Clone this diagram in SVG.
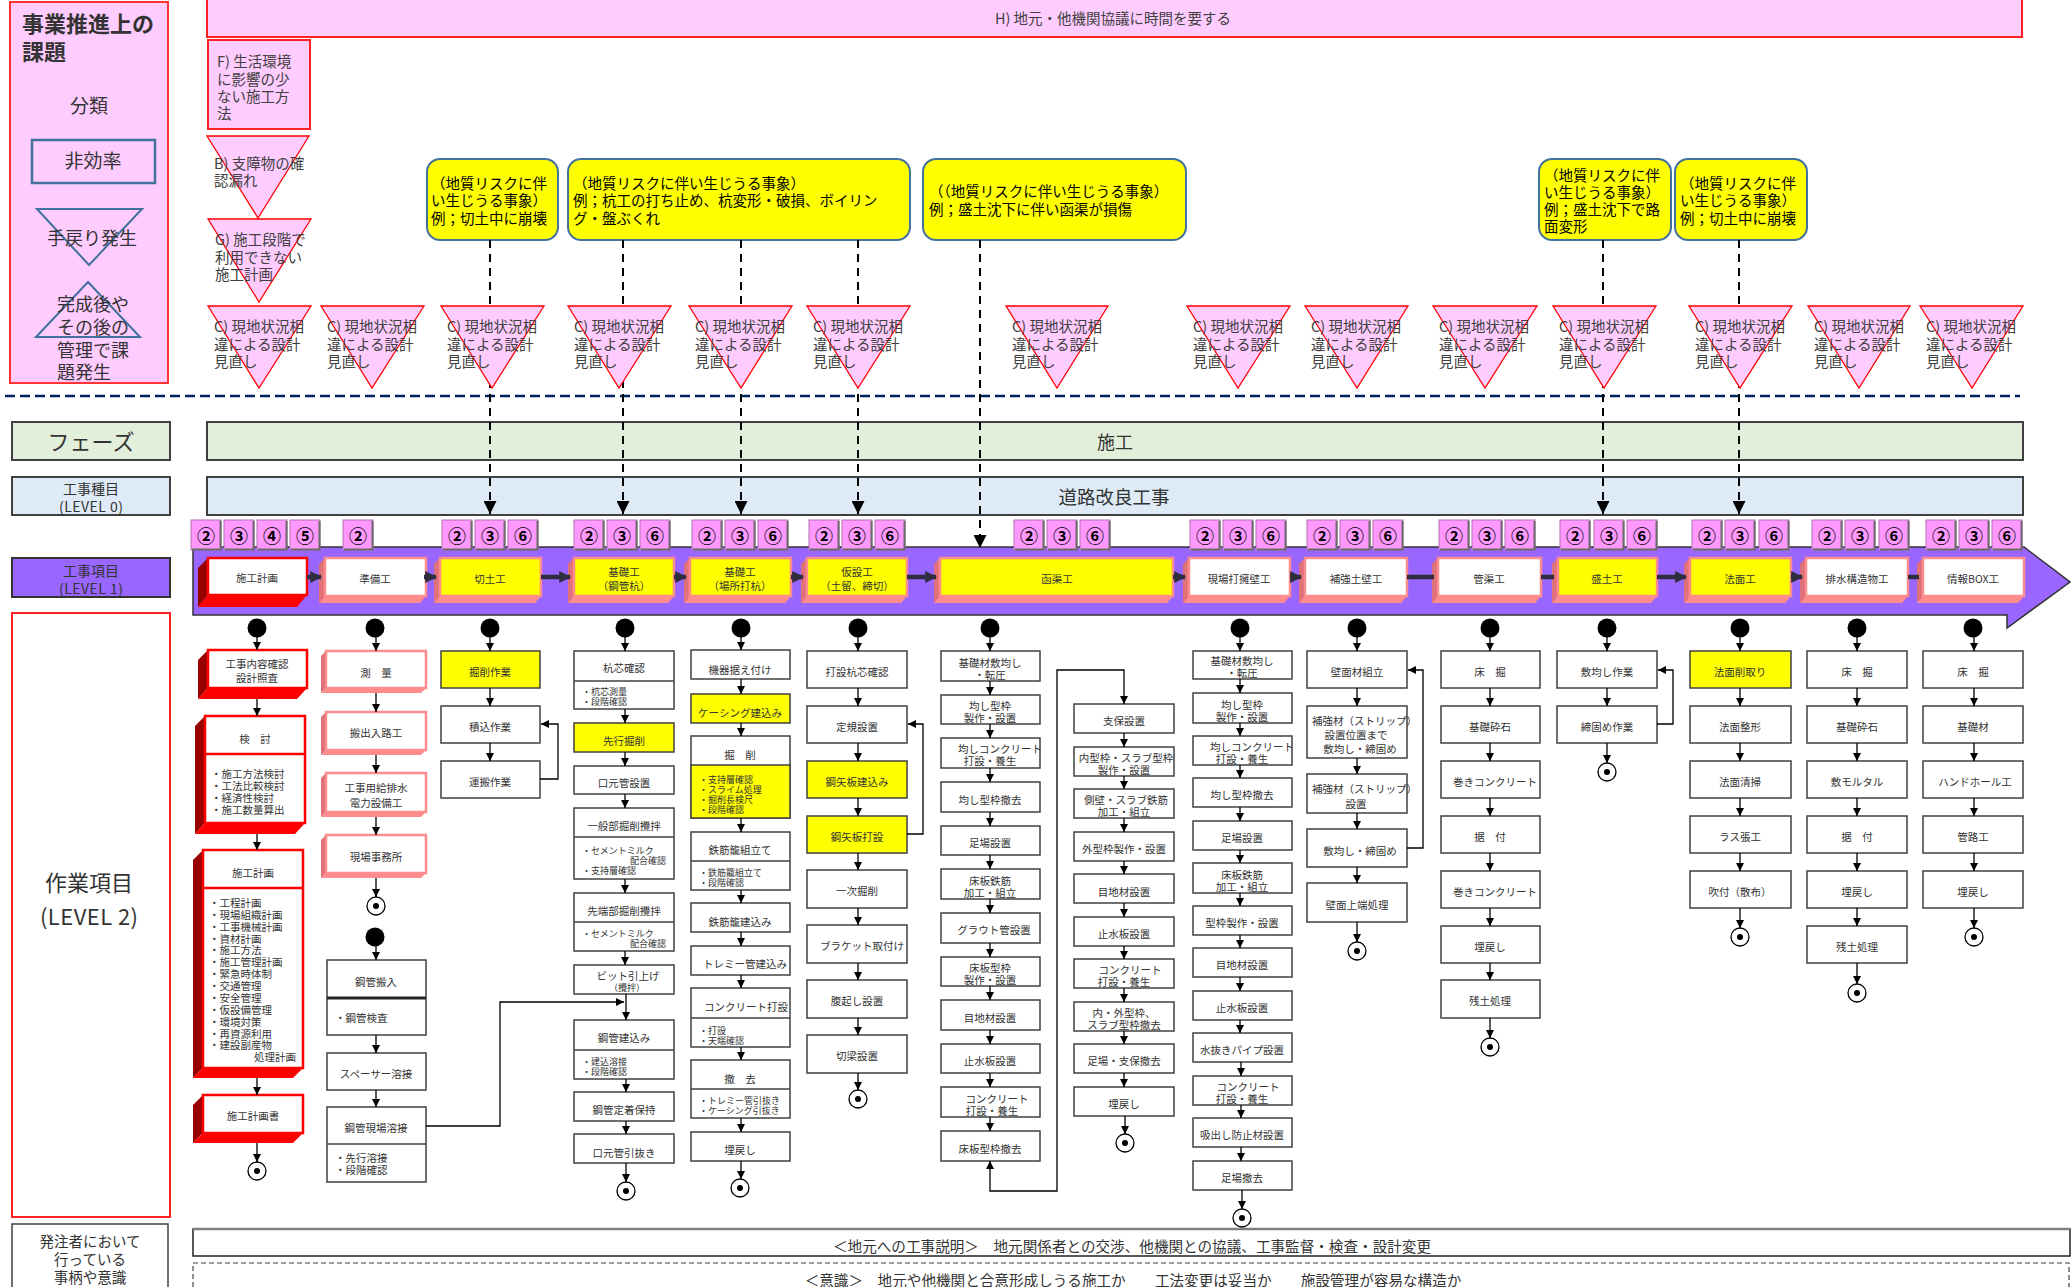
<svg xmlns="http://www.w3.org/2000/svg" width="2071" height="1287" viewBox="0 0 2071 1287">
<defs>
<style>
text{font-family:'Noto Sans CJK JP','Noto Sans',sans-serif;fill:#333}
.s{font-size:10.5px}
.q{font-size:9px}
.m{text-anchor:middle}
.r{text-anchor:end}
.bx{fill:#fff;stroke:#404040;stroke-width:1.5}
.yb{fill:#ff0;stroke:#404040;stroke-width:1.5}
.dv{stroke:#404040;stroke-width:1.5}
.tri{fill:#fcf;stroke:#f00;stroke-width:1.3}
.tt{font-size:14.5px;fill:#404040}
.co{fill:#ff0;stroke:#41719c;stroke-width:2}
.ct{font-size:14.5px;fill:#000}
.nt{font-size:18px;font-weight:700;fill:#000;text-anchor:middle}
.f1{stroke:#ff8c8c;stroke-width:2.5}
.sd{fill:#e0707a}
.sb{fill:#ff8c8c}
.rf{fill:#fff;stroke:#f00;stroke-width:2.5}
.rl{fill:#900}
.rb{fill:#f00}
.ln{fill:none;stroke:#000;stroke-width:1.3;marker-end:url(#ah)}
.dl{fill:none;stroke:#000;stroke-width:2;stroke-dasharray:8 6;marker-end:url(#ahb)}
.l1{fill:none;stroke:#2e2e3e;stroke-width:4.5}
.la{marker-end:url(#ahl)}
</style>
<marker id="ah" viewBox="0 0 10 10" refX="10" refY="5" markerWidth="8" markerHeight="8" markerUnits="userSpaceOnUse" orient="auto-start-reverse"><path d="M0,0L10,5L0,10z" fill="#000"/></marker>
<marker id="ahb" viewBox="0 0 10 10" refX="10" refY="5" markerWidth="13" markerHeight="13" markerUnits="userSpaceOnUse" orient="auto"><path d="M0,0L10,5L0,10z" fill="#000"/></marker>
<marker id="ahl" viewBox="0 0 10 10" refX="9" refY="5" markerWidth="12" markerHeight="12" markerUnits="userSpaceOnUse" orient="auto"><path d="M0,0L10,5L0,10z" fill="#2e2e3e"/></marker>
<g id="nb"><rect width="30" height="30" fill="#f9f" stroke="#b070b0" stroke-width="1"/><path d="M29.5,1V29.5H1" fill="none" stroke="#6b6b6b" stroke-width="2"/></g>
<g id="dot"><circle r="9.5" fill="#000"/></g>
<g id="fin"><circle r="9" fill="#fff" stroke="#000" stroke-width="1.3"/><circle r="3" fill="#000"/></g>
</defs>
<rect width="2071" height="1287" fill="#fff"/>

<!-- issue legend -->
<g id="legend">
<rect x="10" y="2" width="158" height="381" fill="#fcf" stroke="#f33" stroke-width="2"/>
<text x="22" y="32" font-size="22" font-weight="700" fill="#222">事業推進上の</text>
<text x="22" y="60" font-size="22" font-weight="700" fill="#222">課題</text>
<text x="89" y="113" font-size="19" class="m">分類</text>
<rect x="32" y="140" width="123" height="43" fill="none" stroke="#41719c" stroke-width="2.5"/>
<text x="93" y="168" font-size="19" class="m">非効率</text>
<polygon points="37,209 142,209 89,265" fill="none" stroke="#41719c" stroke-width="2"/>
<text x="92" y="245" font-size="18" class="m">手戻り発生</text>
<polygon points="88,282 140,337 36,337" fill="none" stroke="#41719c" stroke-width="2"/>
<text x="57" y="311" font-size="18">完成後や</text>
<text x="57" y="334" font-size="18">その後の</text>
<text x="57" y="357" font-size="18">管理で課</text>
<text x="57" y="379" font-size="18">題発生</text>
</g>

<g id="issueH"><rect x="207" y="-2" width="1815" height="39" fill="#fcf" stroke="#f22" stroke-width="2"/>
<text x="1113" y="24" class="tt m">H) 地元・他機関協議に時間を要する</text></g>
<g id="issueF"><rect x="208" y="40" width="102" height="89" fill="#fcf" stroke="#f22" stroke-width="2"/>
<text x="217" y="67" class="tt">F) 生活環境</text><text x="217" y="85" class="tt">に影響の少</text><text x="217" y="102" class="tt">ない施工方</text><text x="217" y="119" class="tt">法</text></g>
<g id="issueB"><polygon class="tri" points="207,136 309,136 258,218"/>
<text x="214" y="169" class="tt">B) 支障物の確</text><text x="214" y="186" class="tt">認漏れ</text></g>
<g id="issueG"><polygon class="tri" points="208,219 311,219 259,302"/>
<text x="215" y="245" class="tt">G) 施工段階で</text><text x="215" y="263" class="tt">利用できない</text><text x="215" y="280" class="tt">施工計画</text></g>

<!-- geological risk callouts -->
<g id="risk1"><rect class="co" x="427" y="159" width="131" height="81" rx="13"/>
<text x="431" y="189" class="ct">（地質リスクに伴</text><text x="431" y="206" class="ct">い生じうる事象）</text><text x="431" y="224" class="ct">例；切土中に崩壊</text></g>
<g id="risk2"><rect class="co" x="568" y="159" width="342" height="81" rx="13"/>
<text x="573" y="189" class="ct">（地質リスクに伴い生じうる事象）</text><text x="573" y="206" class="ct">例；杭工の打ち止め、杭変形・破損、ボイリン</text><text x="573" y="224" class="ct">グ・盤ぶくれ</text></g>
<g id="risk3"><rect class="co" x="923" y="159" width="263" height="81" rx="13"/>
<text x="929" y="197" class="ct">（（地質リスクに伴い生じうる事象）</text><text x="929" y="215" class="ct">例；盛土沈下に伴い函渠が損傷</text></g>
<g id="risk4"><rect class="co" x="1539" y="159" width="132" height="81" rx="13"/>
<text x="1544" y="181" class="ct">（地質リスクに伴</text><text x="1544" y="198" class="ct">い生じうる事象）</text><text x="1544" y="215" class="ct">例；盛土沈下で路</text><text x="1544" y="232" class="ct">面変形</text></g>
<g id="risk5"><rect class="co" x="1675" y="159" width="132" height="81" rx="13"/>
<text x="1680" y="189" class="ct">（地質リスクに伴</text><text x="1680" y="206" class="ct">い生じうる事象）</text><text x="1680" y="224" class="ct">例；切土中に崩壊</text></g>

<path d="M5,396H2020" stroke="#002060" stroke-width="2.5" stroke-dasharray="10 5" fill="none"/>

<!-- phase / level rows -->
<g id="phaseLbl"><rect x="12" y="422" width="158" height="38" fill="#e2efda" stroke="#404040" stroke-width="2"/>
<text x="91" y="450" font-size="22" class="m">フェーズ</text></g>
<g id="phase"><rect x="207" y="422" width="1816" height="38" fill="#e2efda" stroke="#404040" stroke-width="2"/>
<text x="1115" y="449" font-size="18" class="m">施工</text></g>
<g id="lv0Lbl"><rect x="12" y="477" width="158" height="38" fill="#deebf7" stroke="#404040" stroke-width="2"/>
<text x="91" y="494" font-size="14" class="m">工事種目</text><text x="91" y="512" font-size="14" class="m" textLength="64">(LEVEL 0)</text></g>
<g id="lv0"><rect x="207" y="477" width="1816" height="38" fill="#deebf7" stroke="#404040" stroke-width="2"/>
<text x="1114" y="504" font-size="18.5" class="m">道路改良工事</text></g>
<g id="lv1Lbl"><rect x="12" y="558" width="158" height="39" fill="#96f" stroke="#333" stroke-width="2"/>
<text x="91" y="576" font-size="14" class="m">工事項目</text><text x="91" y="594" font-size="14" class="m" textLength="64">(LEVEL 1)</text></g>
<g id="lv2Lbl"><rect x="12" y="613" width="158" height="604" fill="#fff" stroke="#f22" stroke-width="2"/>
<text x="89" y="891" font-size="22" class="m">作業項目</text><text x="89" y="925" font-size="22" class="m" textLength="98">(LEVEL 2)</text></g>

<g id="band"><polygon points="193,547 2024,547 2070,582 2007,628 2007,615 193,615" fill="#96f" stroke="#333" stroke-width="1.5"/></g>

<!-- level 1 work items -->
<g id="L1-plan">
<polygon class="rl" points="208,558 198,568 198,607 208,595"/><polygon class="rb" points="208,595 198,607 297,607 307,595"/>
<rect class="rf" x="208" y="558" width="99" height="37"/><text x="257" y="582" class="s m">施工計画</text>
<use href="#nb" x="191" y="520"/><text x="206" y="543" class="nt">②</text>
<use href="#nb" x="224" y="520"/><text x="239" y="543" class="nt">③</text>
<use href="#nb" x="257" y="520"/><text x="272" y="543" class="nt">④</text>
<use href="#nb" x="290" y="520"/><text x="305" y="543" class="nt">⑤</text>
</g>
<g id="L1-prep">
<polygon class="sd" points="325,558 319,564 319,603 325,596"/><polygon class="sb" points="325,596 319,603 420,603 426,596"/>
<rect class="f1" x="325" y="558" width="101" height="38" fill="#fff"/><text x="375" y="583" class="s m">準備工</text>
<use href="#nb" x="343" y="520"/><text x="358" y="543" class="nt">②</text>
</g>
<g id="L1-cut">
<polygon class="sd" points="440,558 434,564 434,603 440,596"/><polygon class="sb" points="440,596 434,603 535,603 541,596"/>
<rect class="f1" x="440" y="558" width="101" height="38" fill="#ff0"/><text x="490" y="583" class="s m">切土工</text>
<use href="#nb" x="442" y="520"/><text x="457" y="543" class="nt">②</text>
<use href="#nb" x="475" y="520"/><text x="490" y="543" class="nt">③</text>
<use href="#nb" x="508" y="520"/><text x="523" y="543" class="nt">⑥</text>
</g>
<g id="L1-pile1">
<polygon class="sd" points="574,558 568,564 568,603 574,596"/><polygon class="sb" points="574,596 568,603 668,603 674,596"/>
<rect class="f1" x="574" y="558" width="100" height="38" fill="#ff0"/><text x="624" y="576" class="s m">基礎工</text><text x="624" y="590" class="s m">（鋼管杭）</text>
<use href="#nb" x="574" y="520"/><text x="589" y="543" class="nt">②</text>
<use href="#nb" x="607" y="520"/><text x="622" y="543" class="nt">③</text>
<use href="#nb" x="640" y="520"/><text x="655" y="543" class="nt">⑥</text>
</g>
<g id="L1-pile2">
<polygon class="sd" points="690,558 684,564 684,603 690,596"/><polygon class="sb" points="690,596 684,603 785,603 791,596"/>
<rect class="f1" x="690" y="558" width="101" height="38" fill="#ff0"/><text x="740" y="576" class="s m">基礎工</text><text x="740" y="590" class="s m">（場所打杭）</text>
<use href="#nb" x="692" y="520"/><text x="707" y="543" class="nt">②</text>
<use href="#nb" x="725" y="520"/><text x="740" y="543" class="nt">③</text>
<use href="#nb" x="758" y="520"/><text x="773" y="543" class="nt">⑥</text>
</g>
<g id="L1-temp">
<polygon class="sd" points="807,558 801,564 801,603 807,596"/><polygon class="sb" points="807,596 801,603 901,603 907,596"/>
<rect class="f1" x="807" y="558" width="100" height="38" fill="#ff0"/><text x="857" y="576" class="s m">仮設工</text><text x="857" y="590" class="s m">（土留、締切）</text>
<use href="#nb" x="809" y="520"/><text x="824" y="543" class="nt">②</text>
<use href="#nb" x="842" y="520"/><text x="857" y="543" class="nt">③</text>
<use href="#nb" x="875" y="520"/><text x="890" y="543" class="nt">⑥</text>
</g>
<g id="L1-box">
<polygon class="sd" points="940,558 934,564 934,603 940,596"/><polygon class="sb" points="940,596 934,603 1167,603 1173,596"/>
<rect class="f1" x="940" y="558" width="233" height="38" fill="#ff0"/><text x="1057" y="583" class="s m">函渠工</text>
<use href="#nb" x="1014" y="520"/><text x="1029" y="543" class="nt">②</text>
<use href="#nb" x="1047" y="520"/><text x="1062" y="543" class="nt">③</text>
<use href="#nb" x="1080" y="520"/><text x="1095" y="543" class="nt">⑥</text>
</g>
<g id="L1-wall">
<polygon class="sd" points="1189,558 1183,564 1183,603 1189,596"/><polygon class="sb" points="1189,596 1183,603 1284,603 1290,596"/>
<rect class="f1" x="1189" y="558" width="101" height="38" fill="#fff"/><text x="1239" y="583" class="s m">現場打擁壁工</text>
<use href="#nb" x="1190" y="520"/><text x="1205" y="543" class="nt">②</text>
<use href="#nb" x="1223" y="520"/><text x="1238" y="543" class="nt">③</text>
<use href="#nb" x="1256" y="520"/><text x="1271" y="543" class="nt">⑥</text>
</g>
<g id="L1-rein">
<polygon class="sd" points="1305,558 1299,564 1299,603 1305,596"/><polygon class="sb" points="1305,596 1299,603 1401,603 1407,596"/>
<rect class="f1" x="1305" y="558" width="102" height="38" fill="#fff"/><text x="1356" y="583" class="s m">補強土壁工</text>
<use href="#nb" x="1307" y="520"/><text x="1322" y="543" class="nt">②</text>
<use href="#nb" x="1340" y="520"/><text x="1355" y="543" class="nt">③</text>
<use href="#nb" x="1373" y="520"/><text x="1388" y="543" class="nt">⑥</text>
</g>
<g id="L1-pipe">
<polygon class="sd" points="1438,558 1432,564 1432,603 1438,596"/><polygon class="sb" points="1438,596 1432,603 1535,603 1541,596"/>
<rect class="f1" x="1438" y="558" width="103" height="38" fill="#fff"/><text x="1489" y="583" class="s m">管渠工</text>
<use href="#nb" x="1439" y="520"/><text x="1454" y="543" class="nt">②</text>
<use href="#nb" x="1472" y="520"/><text x="1487" y="543" class="nt">③</text>
<use href="#nb" x="1505" y="520"/><text x="1520" y="543" class="nt">⑥</text>
</g>
<g id="L1-fill">
<polygon class="sd" points="1558,558 1552,564 1552,603 1558,596"/><polygon class="sb" points="1558,596 1552,603 1651,603 1657,596"/>
<rect class="f1" x="1558" y="558" width="99" height="38" fill="#ff0"/><text x="1607" y="583" class="s m">盛土工</text>
<use href="#nb" x="1560" y="520"/><text x="1575" y="543" class="nt">②</text>
<use href="#nb" x="1594" y="520"/><text x="1609" y="543" class="nt">③</text>
<use href="#nb" x="1627" y="520"/><text x="1642" y="543" class="nt">⑥</text>
</g>
<g id="L1-slope">
<polygon class="sd" points="1690,558 1684,564 1684,603 1690,596"/><polygon class="sb" points="1690,596 1684,603 1785,603 1791,596"/>
<rect class="f1" x="1690" y="558" width="101" height="38" fill="#ff0"/><text x="1740" y="583" class="s m">法面工</text>
<use href="#nb" x="1692" y="520"/><text x="1707" y="543" class="nt">②</text>
<use href="#nb" x="1725" y="520"/><text x="1740" y="543" class="nt">③</text>
<use href="#nb" x="1759" y="520"/><text x="1774" y="543" class="nt">⑥</text>
</g>
<g id="L1-drain">
<polygon class="sd" points="1806,558 1800,564 1800,603 1806,596"/><polygon class="sb" points="1806,596 1800,603 1902,603 1908,596"/>
<rect class="f1" x="1806" y="558" width="102" height="38" fill="#fff"/><text x="1857" y="583" class="s m">排水構造物工</text>
<use href="#nb" x="1812" y="520"/><text x="1827" y="543" class="nt">②</text>
<use href="#nb" x="1845" y="520"/><text x="1860" y="543" class="nt">③</text>
<use href="#nb" x="1879" y="520"/><text x="1894" y="543" class="nt">⑥</text>
</g>
<g id="L1-info">
<polygon class="sd" points="1923,558 1917,564 1917,603 1923,596"/><polygon class="sb" points="1923,596 1917,603 2018,603 2024,596"/>
<rect class="f1" x="1923" y="558" width="101" height="38" fill="#fff"/><text x="1973" y="583" class="s m">情報BOX工</text>
<use href="#nb" x="1926" y="520"/><text x="1941" y="543" class="nt">②</text>
<use href="#nb" x="1959" y="520"/><text x="1974" y="543" class="nt">③</text>
<use href="#nb" x="1992" y="520"/><text x="2007" y="543" class="nt">⑥</text>
</g>

<!-- level 2: 施工計画 -->
<g id="pl-1"><polygon class="rl" points="208,650 198,660 198,699 208,688"/><polygon class="rb" points="208,688 198,699 297,699 307,688"/><rect class="rf" x="208" y="650" width="99" height="38"/>
<text x="257" y="668" class="s m">工事内容確認</text><text x="257" y="682" class="s m">設計照査</text></g>
<g id="pl-2"><polygon class="rl" points="205,716 195,726 195,834 205,823"/><polygon class="rb" points="205,823 195,834 295,834 305,823"/><rect class="rf" x="205" y="716" width="100" height="107"/>
<path d="M205,754H305" stroke="#f00" stroke-width="2.5"/>
<text x="255" y="743" class="s m">検　討</text>
<text x="211" y="778" class="s">・施工方法検討</text><text x="211" y="790" class="s">・工法比較検討</text><text x="211" y="802" class="s">・経済性検討</text><text x="211" y="814" class="s">・施工数量算出</text></g>
<g id="pl-3"><polygon class="rl" points="203,850 193,860 193,1078 203,1068"/><polygon class="rb" points="203,1068 193,1078 293,1078 303,1068"/><rect class="rf" x="203" y="850" width="100" height="218"/>
<path d="M203,888H303" stroke="#f00" stroke-width="2.5"/>
<text x="253" y="877" class="s m">施工計画</text>
<text x="209" y="907" class="s">・工程計画</text><text x="209" y="919" class="s">・現場組織計画</text><text x="209" y="931" class="s">・工事機械計画</text><text x="209" y="943" class="s">・資材計画</text><text x="209" y="954" class="s">・施工方法</text><text x="209" y="966" class="s">・施工管理計画</text><text x="209" y="978" class="s">・緊急時体制</text><text x="209" y="990" class="s">・交通管理</text><text x="209" y="1002" class="s">・安全管理</text><text x="209" y="1014" class="s">・仮設備管理</text><text x="209" y="1026" class="s">・環境対策</text><text x="209" y="1038" class="s">・再資源利用</text><text x="209" y="1049" class="s">・建設副産物</text><text x="296" y="1061" class="s r">処理計画</text></g>
<g id="pl-4"><polygon class="rl" points="203,1095 193,1105 193,1143 203,1133"/><polygon class="rb" points="203,1133 193,1143 293,1143 303,1133"/><rect class="rf" x="203" y="1095" width="100" height="38"/>
<text x="253" y="1120" class="s m">施工計画書</text></g>

<!-- level 2: 準備工 -->
<g id="pr-1"><polygon class="sd" points="326,651 321,656 321,693 326,688"/><polygon class="sb" points="326,688 321,693 421,693 426,688"/><rect class="f1" x="326" y="651" width="100" height="37" fill="#fff"/><text x="376" y="677" class="s m">測　量</text></g>
<g id="pr-2"><polygon class="sd" points="326,712 321,717 321,755 326,750"/><polygon class="sb" points="326,750 321,755 421,755 426,750"/><rect class="f1" x="326" y="712" width="100" height="38" fill="#fff"/><text x="376" y="737" class="s m">搬出入路工</text></g>
<g id="pr-3"><polygon class="sd" points="326,773 321,778 321,817 326,812"/><polygon class="sb" points="326,812 321,817 421,817 426,812"/><rect class="f1" x="326" y="773" width="100" height="39" fill="#fff"/><text x="376" y="792" class="s m">工事用給排水</text><text x="376" y="807" class="s m">電力設備工</text></g>
<g id="pr-4"><polygon class="sd" points="326,835 321,840 321,878 326,873"/><polygon class="sb" points="326,873 321,878 421,878 426,873"/><rect class="f1" x="326" y="835" width="100" height="38" fill="#fff"/><text x="376" y="861" class="s m">現場事務所</text></g>
<g id="sp-1"><rect class="bx" x="327" y="960" width="99" height="75"/><path d="M327,998H426" stroke="#222" stroke-width="3"/><text x="376" y="986" class="s m">鋼管搬入</text><text x="335" y="1022" class="s">・鋼管検査</text></g>
<g id="sp-2"><rect class="bx" x="327" y="1053" width="99" height="37"/><text x="376" y="1078" class="s m">スペーサー溶接</text></g>
<g id="sp-3"><rect class="bx" x="327" y="1107" width="99" height="75"/><path class="dv" d="M327,1144H426"/><text x="376" y="1132" class="s m">鋼管現場溶接</text><text x="335" y="1162" class="s">・先行溶接</text><text x="335" y="1174" class="s">・段階確認</text></g>

<!-- level 2: 切土工 -->
<g id="ct-1"><rect class="yb" x="441" y="651" width="99" height="37"/><text x="490" y="676" class="s m">掘削作業</text></g>
<g id="ct-2"><rect class="bx" x="441" y="706" width="99" height="37"/><text x="490" y="731" class="s m">積込作業</text></g>
<g id="ct-3"><rect class="bx" x="441" y="761" width="99" height="37"/><text x="490" y="786" class="s m">運搬作業</text></g>

<!-- level 2: 基礎工（鋼管杭） -->
<g id="k1-1"><rect class="bx" x="574" y="651" width="100" height="58"/><path class="dv" d="M574,681H674"/><text x="624" y="672" class="s m">杭芯確認</text><text x="582" y="695" class="q">・杭芯測量</text><text x="582" y="705" class="q">・段階確認</text></g>
<g id="k1-2"><rect class="yb" x="574" y="723" width="100" height="29"/><text x="624" y="745" class="s m">先行掘削</text></g>
<g id="k1-3"><rect class="bx" x="574" y="766" width="100" height="28"/><text x="624" y="787" class="s m">口元管設置</text></g>
<g id="k1-4"><rect class="bx" x="574" y="808" width="100" height="71"/><path class="dv" d="M574,837H674"/><text x="624" y="830" class="s m">一般部掘削攪拌</text><text x="582" y="854" class="q">・セメントミルク</text><text x="666" y="864" class="q r">配合確認</text><text x="582" y="874" class="q">・支持層確認</text></g>
<g id="k1-5"><rect class="bx" x="574" y="893" width="100" height="58"/><path class="dv" d="M574,922H674"/><text x="624" y="915" class="s m">先端部掘削攪拌</text><text x="582" y="937" class="q">・セメントミルク</text><text x="666" y="947" class="q r">配合確認</text></g>
<g id="k1-6"><rect class="bx" x="574" y="965" width="100" height="29"/><text x="628" y="980" class="s m">ビット引上げ</text><text x="627" y="991" class="q m">（攪拌）</text></g>
<g id="k1-7"><rect class="bx" x="574" y="1020" width="100" height="59"/><path class="dv" d="M574,1050H674"/><text x="624" y="1042" class="s m">鋼管建込み</text><text x="582" y="1065" class="q">・建込溶接</text><text x="582" y="1075" class="q">・段階確認</text></g>
<g id="k1-8"><rect class="bx" x="574" y="1092" width="100" height="29"/><text x="624" y="1114" class="s m">鋼管定着保持</text></g>
<g id="k1-9"><rect class="bx" x="574" y="1134" width="100" height="29"/><text x="624" y="1157" class="s m">口元管引抜き</text></g>

<!-- level 2: 基礎工（場所打杭） -->
<g id="k2-1"><rect class="bx" x="691" y="650" width="99" height="29"/><text x="740" y="674" class="s m">機器据え付け</text></g>
<g id="k2-2"><rect class="yb" x="691" y="694" width="99" height="29"/><text x="740" y="717" class="s m">ケーシング建込み</text></g>
<g id="k2-3"><rect class="bx" x="691" y="736" width="99" height="82"/><rect class="yb" x="691" y="765" width="99" height="53"/><text x="740" y="759" class="s m">掘　削</text><text x="699" y="783" class="q">・支持層確認</text><text x="699" y="793" class="q">・スライム処理</text><text x="699" y="803" class="q">・掘削長検尺</text><text x="699" y="813" class="q">・段階確認</text></g>
<g id="k2-4"><rect class="bx" x="691" y="832" width="99" height="58"/><path class="dv" d="M691,861H790"/><text x="740" y="854" class="s m">鉄筋籠組立て</text><text x="699" y="876" class="q">・鉄筋籠組立て</text><text x="699" y="886" class="q">・段階確認</text></g>
<g id="k2-5"><rect class="bx" x="691" y="903" width="99" height="29"/><text x="740" y="926" class="s m">鉄筋籠建込み</text></g>
<g id="k2-6"><rect class="bx" x="691" y="946" width="99" height="29"/><text x="745" y="968" class="s m">トレミー管建込み</text></g>
<g id="k2-7"><rect class="bx" x="691" y="988" width="99" height="59"/><path class="dv" d="M691,1018H790"/><text x="746" y="1011" class="s m">コンクリート打設</text><text x="699" y="1034" class="q">・打設</text><text x="699" y="1044" class="q">・天端確認</text></g>
<g id="k2-8"><rect class="bx" x="691" y="1060" width="99" height="58"/><path class="dv" d="M691,1089H790"/><text x="740" y="1083" class="s m">撤　去</text><text x="699" y="1104" class="q">・トレミー管引抜き</text><text x="699" y="1114" class="q">・ケーシング引抜き</text></g>
<g id="k2-9"><rect class="bx" x="691" y="1132" width="99" height="29"/><text x="740" y="1154" class="s m">埋戻し</text></g>

<!-- level 2: 仮設工 -->
<g id="tm-1"><rect class="bx" x="807" y="651" width="100" height="37"/><text x="857" y="676" class="s m">打設杭芯確認</text></g>
<g id="tm-2"><rect class="bx" x="807" y="706" width="100" height="37"/><text x="857" y="731" class="s m">定規設置</text></g>
<g id="tm-3"><rect class="yb" x="807" y="761" width="100" height="37"/><text x="857" y="786" class="s m">鋼矢板建込み</text></g>
<g id="tm-4"><rect class="yb" x="807" y="816" width="100" height="37"/><text x="857" y="841" class="s m">鋼矢板打設</text></g>
<g id="tm-5"><rect class="bx" x="807" y="870" width="100" height="38"/><text x="857" y="895" class="s m">一次掘削</text></g>
<g id="tm-6"><rect class="bx" x="807" y="925" width="100" height="38"/><text x="862" y="950" class="s m">ブラケット取付け</text></g>
<g id="tm-7"><rect class="bx" x="807" y="980" width="100" height="38"/><text x="857" y="1005" class="s m">腹起し設置</text></g>
<g id="tm-8"><rect class="bx" x="807" y="1035" width="100" height="38"/><text x="857" y="1060" class="s m">切梁設置</text></g>

<!-- level 2: 函渠工 -->
<g id="bx-1"><rect class="bx" x="941" y="651" width="99" height="30"/><text x="990" y="667" class="s m">基礎材敷均し</text><text x="990" y="679" class="s m">・転圧</text></g>
<g id="bx-2"><rect class="bx" x="941" y="695" width="99" height="29"/><text x="990" y="710" class="s m">均し型枠</text><text x="990" y="722" class="s m">製作・設置</text></g>
<g id="bx-3"><rect class="bx" x="941" y="738" width="99" height="30"/><text x="958" y="753" class="s">均しコンクリート</text><text x="990" y="765" class="s m">打設・養生</text></g>
<g id="bx-4"><rect class="bx" x="941" y="782" width="99" height="30"/><text x="990" y="804" class="s m">均し型枠撤去</text></g>
<g id="bx-5"><rect class="bx" x="941" y="826" width="99" height="29"/><text x="990" y="847" class="s m">足場設置</text></g>
<g id="bx-6"><rect class="bx" x="941" y="869" width="99" height="30"/><text x="990" y="885" class="s m">床板鉄筋</text><text x="990" y="897" class="s m">加工・組立</text></g>
<g id="bx-7"><rect class="bx" x="941" y="913" width="99" height="30"/><text x="994" y="934" class="s m">グラウト管設置</text></g>
<g id="bx-8"><rect class="bx" x="941" y="957" width="99" height="29"/><text x="990" y="972" class="s m">床板型枠</text><text x="990" y="984" class="s m">製作・設置</text></g>
<g id="bx-9"><rect class="bx" x="941" y="1000" width="99" height="30"/><text x="990" y="1022" class="s m">目地材設置</text></g>
<g id="bx-10"><rect class="bx" x="941" y="1044" width="99" height="29"/><text x="990" y="1065" class="s m">止水板設置</text></g>
<g id="bx-11"><rect class="bx" x="941" y="1087" width="99" height="30"/><text x="997" y="1103" class="s m">コンクリート</text><text x="992" y="1115" class="s m">打設・養生</text></g>
<g id="bx-12"><rect class="bx" x="941" y="1131" width="99" height="30"/><text x="990" y="1153" class="s m">床板型枠撤去</text></g>
<g id="bw-1"><rect class="bx" x="1074" y="704" width="100" height="29"/><text x="1124" y="725" class="s m">支保設置</text></g>
<g id="bw-2"><rect class="bx" x="1074" y="747" width="100" height="29"/><text x="1126" y="762" class="s m">内型枠・スラブ型枠</text><text x="1124" y="774" class="s m">製作・設置</text></g>
<g id="bw-3"><rect class="bx" x="1074" y="789" width="100" height="29"/><text x="1126" y="804" class="s m">側壁・スラブ鉄筋</text><text x="1124" y="816" class="s m">加工・組立</text></g>
<g id="bw-4"><rect class="bx" x="1074" y="832" width="100" height="29"/><text x="1124" y="853" class="s m">外型枠製作・設置</text></g>
<g id="bw-5"><rect class="bx" x="1074" y="874" width="100" height="29"/><text x="1124" y="896" class="s m">目地材設置</text></g>
<g id="bw-6"><rect class="bx" x="1074" y="917" width="100" height="29"/><text x="1124" y="938" class="s m">止水板設置</text></g>
<g id="bw-7"><rect class="bx" x="1074" y="959" width="100" height="29"/><text x="1130" y="974" class="s m">コンクリート</text><text x="1124" y="986" class="s m">打設・養生</text></g>
<g id="bw-8"><rect class="bx" x="1074" y="1002" width="100" height="29"/><text x="1124" y="1017" class="s m">内・外型枠、</text><text x="1124" y="1029" class="s m">スラブ型枠撤去</text></g>
<g id="bw-9"><rect class="bx" x="1074" y="1044" width="100" height="29"/><text x="1124" y="1065" class="s m">足場・支保撤去</text></g>
<g id="bw-10"><rect class="bx" x="1074" y="1087" width="100" height="29"/><text x="1124" y="1108" class="s m">埋戻し</text></g>

<!-- level 2: 現場打擁壁工 -->
<g id="rw-1"><rect class="bx" x="1193" y="651" width="99" height="28"/><text x="1242" y="665" class="s m">基礎材敷均し</text><text x="1242" y="677" class="s m">・転圧</text></g>
<g id="rw-2"><rect class="bx" x="1193" y="693" width="99" height="30"/><text x="1242" y="709" class="s m">均し型枠</text><text x="1242" y="721" class="s m">製作・設置</text></g>
<g id="rw-3"><rect class="bx" x="1193" y="736" width="99" height="29"/><text x="1210" y="751" class="s">均しコンクリート</text><text x="1242" y="763" class="s m">打設・養生</text></g>
<g id="rw-4"><rect class="bx" x="1193" y="778" width="99" height="29"/><text x="1242" y="799" class="s m">均し型枠撤去</text></g>
<g id="rw-5"><rect class="bx" x="1193" y="821" width="99" height="29"/><text x="1242" y="842" class="s m">足場設置</text></g>
<g id="rw-6"><rect class="bx" x="1193" y="863" width="99" height="30"/><text x="1242" y="879" class="s m">床板鉄筋</text><text x="1242" y="891" class="s m">加工・組立</text></g>
<g id="rw-7"><rect class="bx" x="1193" y="906" width="99" height="29"/><text x="1242" y="927" class="s m">型枠製作・設置</text></g>
<g id="rw-8"><rect class="bx" x="1193" y="948" width="99" height="29"/><text x="1242" y="969" class="s m">目地材設置</text></g>
<g id="rw-9"><rect class="bx" x="1193" y="991" width="99" height="29"/><text x="1242" y="1012" class="s m">止水板設置</text></g>
<g id="rw-10"><rect class="bx" x="1193" y="1033" width="99" height="29"/><text x="1242" y="1054" class="s m">水抜きパイプ設置</text></g>
<g id="rw-11"><rect class="bx" x="1193" y="1076" width="99" height="29"/><text x="1248" y="1091" class="s m">コンクリート</text><text x="1242" y="1103" class="s m">打設・養生</text></g>
<g id="rw-12"><rect class="bx" x="1193" y="1118" width="99" height="29"/><text x="1242" y="1139" class="s m">吸出し防止材設置</text></g>
<g id="rw-13"><rect class="bx" x="1193" y="1161" width="99" height="29"/><text x="1242" y="1182" class="s m">足場撤去</text></g>

<!-- level 2: 補強土壁工 -->
<g id="re-1"><rect class="bx" x="1307" y="651" width="100" height="37"/><text x="1357" y="676" class="s m">壁面材組立</text></g>
<g id="re-2"><rect class="bx" x="1307" y="706" width="100" height="52"/><text x="1312" y="725" class="s">補強材（ストリップ）</text><text x="1356" y="739" class="s m">設置位置まで</text><text x="1360" y="753" class="s m">敷均し・締固め</text></g>
<g id="re-3"><rect class="bx" x="1307" y="774" width="100" height="39"/><text x="1312" y="793" class="s">補強材（ストリップ）</text><text x="1356" y="808" class="s m">設置</text></g>
<g id="re-4"><rect class="bx" x="1307" y="829" width="100" height="38"/><text x="1360" y="855" class="s m">敷均し・締固め</text></g>
<g id="re-5"><rect class="bx" x="1307" y="883" width="100" height="39"/><text x="1357" y="909" class="s m">壁面上端処理</text></g>

<!-- level 2: 管渠工 -->
<g id="pp-1"><rect class="bx" x="1441" y="651" width="99" height="37"/><text x="1490" y="676" class="s m">床　掘</text></g>
<g id="pp-2"><rect class="bx" x="1441" y="706" width="99" height="37"/><text x="1490" y="731" class="s m">基礎砕石</text></g>
<g id="pp-3"><rect class="bx" x="1441" y="761" width="99" height="37"/><text x="1495" y="786" class="s m">巻きコンクリート</text></g>
<g id="pp-4"><rect class="bx" x="1441" y="816" width="99" height="37"/><text x="1490" y="841" class="s m">据　付</text></g>
<g id="pp-5"><rect class="bx" x="1441" y="871" width="99" height="37"/><text x="1495" y="896" class="s m">巻きコンクリート</text></g>
<g id="pp-6"><rect class="bx" x="1441" y="926" width="99" height="37"/><text x="1490" y="951" class="s m">埋戻し</text></g>
<g id="pp-7"><rect class="bx" x="1441" y="980" width="99" height="38"/><text x="1490" y="1005" class="s m">残土処理</text></g>

<!-- level 2: 盛土工 -->
<g id="em-1"><rect class="bx" x="1557" y="651" width="100" height="37"/><text x="1607" y="676" class="s m">敷均し作業</text></g>
<g id="em-2"><rect class="bx" x="1557" y="706" width="100" height="37"/><text x="1607" y="731" class="s m">締固め作業</text></g>

<!-- level 2: 法面工 -->
<g id="sl-1"><rect class="yb" x="1690" y="651" width="101" height="37"/><text x="1740" y="676" class="s m">法面削取り</text></g>
<g id="sl-2"><rect class="bx" x="1690" y="706" width="101" height="37"/><text x="1740" y="731" class="s m">法面整形</text></g>
<g id="sl-3"><rect class="bx" x="1690" y="761" width="101" height="37"/><text x="1740" y="786" class="s m">法面清掃</text></g>
<g id="sl-4"><rect class="bx" x="1690" y="816" width="101" height="37"/><text x="1740" y="841" class="s m">ラス張工</text></g>
<g id="sl-5"><rect class="bx" x="1690" y="871" width="101" height="37"/><text x="1740" y="896" class="s m">吹付（散布）</text></g>

<!-- level 2: 排水構造物工 -->
<g id="dr-1"><rect class="bx" x="1807" y="651" width="100" height="37"/><text x="1857" y="676" class="s m">床　掘</text></g>
<g id="dr-2"><rect class="bx" x="1807" y="706" width="100" height="37"/><text x="1857" y="731" class="s m">基礎砕石</text></g>
<g id="dr-3"><rect class="bx" x="1807" y="761" width="100" height="37"/><text x="1857" y="786" class="s m">敷モルタル</text></g>
<g id="dr-4"><rect class="bx" x="1807" y="816" width="100" height="37"/><text x="1857" y="841" class="s m">据　付</text></g>
<g id="dr-5"><rect class="bx" x="1807" y="871" width="100" height="37"/><text x="1857" y="896" class="s m">埋戻し</text></g>
<g id="dr-6"><rect class="bx" x="1807" y="926" width="100" height="37"/><text x="1857" y="951" class="s m">残土処理</text></g>

<!-- level 2: 情報BOX工 -->
<g id="ib-1"><rect class="bx" x="1923" y="651" width="100" height="37"/><text x="1973" y="676" class="s m">床　掘</text></g>
<g id="ib-2"><rect class="bx" x="1923" y="706" width="100" height="37"/><text x="1973" y="731" class="s m">基礎材</text></g>
<g id="ib-3"><rect class="bx" x="1923" y="761" width="100" height="37"/><text x="1975" y="786" class="s m">ハンドホール工</text></g>
<g id="ib-4"><rect class="bx" x="1923" y="816" width="100" height="37"/><text x="1973" y="841" class="s m">管路工</text></g>
<g id="ib-5"><rect class="bx" x="1923" y="871" width="100" height="37"/><text x="1973" y="896" class="s m">埋戻し</text></g>

<!-- client side row -->
<g id="clientLbl"><rect x="12" y="1224" width="156" height="75" fill="#fff" stroke="#404040" stroke-width="1.5"/>
<text x="90" y="1247" font-size="14.5" class="m">発注者において</text><text x="90" y="1265" font-size="14.5" class="m">行っている</text><text x="90" y="1283" font-size="14.5" class="m">事柄や意識</text></g>
<g id="clientWork"><rect x="193" y="1229" width="1877" height="27" fill="#fff" stroke="#222" stroke-width="1.5"/><path d="M193,1229H2070" stroke="#7f7f7f" stroke-width="2.5"/>
<text x="1132" y="1252" font-size="14.6" class="m" fill="#222">＜地元への工事説明＞　地元関係者との交渉、他機関との協議、工事監督・検査・設計変更</text></g>
<g id="clientMind"><rect x="193" y="1263" width="1876" height="40" fill="none" stroke="#404040" stroke-width="1.2" stroke-dasharray="5 3"/>
<text x="1133" y="1286" font-size="14.6" class="m" fill="#222">＜意識＞　地元や他機関と合意形成しうる施工か　　工法変更は妥当か　　施設管理が容易な構造か</text></g>

<!-- connectors -->
<g id="connectors">
<path class="dl" d="M490,240V514"/>
<path class="dl" d="M623,240V514"/>
<path class="dl" d="M741,240V514"/>
<path class="dl" d="M858,240V514"/>
<path class="dl" d="M980,240V548"/>
<path class="dl" d="M1603,240V514"/>
<path class="dl" d="M1739,240V514"/>

<path class="l1 la" d="M307,577H321"/>
<path class="l1 la" d="M424,577H436"/>
<path class="l1 la" d="M541,577H570"/>
<path class="l1 la" d="M674,577H686"/>
<path class="l1 la" d="M791,577H803"/>
<path class="l1 la" d="M907,577H936"/>
<path class="l1 la" d="M1173,577H1185"/>
<path class="l1 la" d="M1290,577H1301"/>
<path class="l1" d="M1407,577H1434"/>
<path class="l1" d="M1541,577H1554"/>
<path class="l1 la" d="M1657,577H1686"/>
<path class="l1 la" d="M1791,577H1802"/>
<path class="l1" d="M1908,577H1919"/>

<use href="#dot" x="257" y="628"/><use href="#dot" x="375" y="628"/><use href="#dot" x="490" y="628"/><use href="#dot" x="625" y="628"/><use href="#dot" x="741" y="628"/><use href="#dot" x="858" y="628"/><use href="#dot" x="990" y="628"/><use href="#dot" x="1240" y="628"/><use href="#dot" x="1357" y="628"/><use href="#dot" x="1490" y="628"/><use href="#dot" x="1607" y="628"/><use href="#dot" x="1740" y="628"/><use href="#dot" x="1857" y="628"/><use href="#dot" x="1973" y="628"/>
<use href="#dot" x="375" y="937"/>

<use href="#fin" x="257" y="1171"/><use href="#fin" x="376" y="906"/><use href="#fin" x="626" y="1191"/><use href="#fin" x="740" y="1188"/><use href="#fin" x="858" y="1099"/><use href="#fin" x="1125" y="1143"/><use href="#fin" x="1242" y="1218"/><use href="#fin" x="1357" y="951"/><use href="#fin" x="1490" y="1047"/><use href="#fin" x="1607" y="772"/><use href="#fin" x="1740" y="937"/><use href="#fin" x="1857" y="993"/><use href="#fin" x="1974" y="937"/>

<path class="ln" d="M257,637V650"/><path class="ln" d="M257,699V716"/><path class="ln" d="M257,834V850"/><path class="ln" d="M257,1078V1095"/><path class="ln" d="M257,1143V1162"/>
<path class="ln" d="M376,637V651"/><path class="ln" d="M376,693V712"/><path class="ln" d="M376,755V773"/><path class="ln" d="M376,817V835"/><path class="ln" d="M376,878V897"/>
<path class="ln" d="M376,946V960"/><path class="ln" d="M376,1035V1053"/><path class="ln" d="M376,1090V1107"/>
<path class="ln" d="M426,1126H500V1002H624"/>
<path class="ln" d="M490,637V651"/><path class="ln" d="M490,688V706"/><path class="ln" d="M490,743V761"/>
<path class="ln" d="M540,779H558V724H541"/>
<path class="ln" d="M625,637V651"/><path class="ln" d="M625,709V723"/><path class="ln" d="M625,752V766"/><path class="ln" d="M625,794V808"/><path class="ln" d="M625,879V893"/><path class="ln" d="M625,951V965"/><path class="ln" d="M626,994V1020"/><path class="ln" d="M626,1079V1092"/><path class="ln" d="M626,1121V1134"/><path class="ln" d="M626,1163V1182"/>
<path class="ln" d="M741,637V650"/><path class="ln" d="M741,679V694"/><path class="ln" d="M741,723V736"/><path class="ln" d="M741,818V832"/><path class="ln" d="M741,890V903"/><path class="ln" d="M741,932V946"/><path class="ln" d="M741,975V988"/><path class="ln" d="M741,1047V1060"/><path class="ln" d="M741,1118V1132"/><path class="ln" d="M741,1161V1179"/>
<path class="ln" d="M858,637V651"/><path class="ln" d="M858,688V706"/><path class="ln" d="M858,743V761"/><path class="ln" d="M858,798V816"/><path class="ln" d="M858,853V870"/><path class="ln" d="M858,908V925"/><path class="ln" d="M858,963V980"/><path class="ln" d="M858,1018V1035"/><path class="ln" d="M858,1073V1090"/>
<path class="ln" d="M907,834H923V724H908"/>
<path class="ln" d="M990,637V651"/><path class="ln" d="M990,681V695"/><path class="ln" d="M990,724V738"/><path class="ln" d="M990,768V782"/><path class="ln" d="M990,812V826"/><path class="ln" d="M990,855V869"/><path class="ln" d="M990,899V913"/><path class="ln" d="M990,943V957"/><path class="ln" d="M990,986V1000"/><path class="ln" d="M990,1030V1044"/><path class="ln" d="M990,1073V1087"/><path class="ln" d="M990,1117V1131"/>
<path class="ln" d="M990,1161V1191H1057V670H1124V704" marker-start="url(#ah)"/>
<path class="ln" d="M1124,733V747"/><path class="ln" d="M1124,776V789"/><path class="ln" d="M1124,818V832"/><path class="ln" d="M1124,861V874"/><path class="ln" d="M1124,903V917"/><path class="ln" d="M1124,946V959"/><path class="ln" d="M1124,988V1002"/><path class="ln" d="M1124,1031V1044"/><path class="ln" d="M1124,1073V1087"/><path class="ln" d="M1125,1116V1134"/>
<path class="ln" d="M1240,637V651"/><path class="ln" d="M1240,679V693"/><path class="ln" d="M1240,723V736"/><path class="ln" d="M1240,765V778"/><path class="ln" d="M1240,807V821"/><path class="ln" d="M1240,850V863"/><path class="ln" d="M1240,893V906"/><path class="ln" d="M1240,935V948"/><path class="ln" d="M1240,977V991"/><path class="ln" d="M1240,1020V1033"/><path class="ln" d="M1241,1062V1076"/><path class="ln" d="M1241,1105V1118"/><path class="ln" d="M1241,1147V1161"/><path class="ln" d="M1242,1190V1209"/>
<path class="ln" d="M1357,637V651"/><path class="ln" d="M1357,688V706"/><path class="ln" d="M1357,758V774"/><path class="ln" d="M1357,813V829"/><path class="ln" d="M1357,867V883"/><path class="ln" d="M1357,922V942"/>
<path class="ln" d="M1407,848H1423V670H1408"/>
<path class="ln" d="M1490,637V651"/><path class="ln" d="M1490,688V706"/><path class="ln" d="M1490,743V761"/><path class="ln" d="M1490,798V816"/><path class="ln" d="M1490,853V871"/><path class="ln" d="M1490,908V926"/><path class="ln" d="M1490,963V980"/><path class="ln" d="M1490,1018V1038"/>
<path class="ln" d="M1607,637V651"/><path class="ln" d="M1607,688V706"/><path class="ln" d="M1607,743V763"/>
<path class="ln" d="M1657,724H1673V670H1658"/>
<path class="ln" d="M1740,637V651"/><path class="ln" d="M1740,688V706"/><path class="ln" d="M1740,743V761"/><path class="ln" d="M1740,798V816"/><path class="ln" d="M1740,853V871"/><path class="ln" d="M1740,908V928"/>
<path class="ln" d="M1857,637V651"/><path class="ln" d="M1857,688V706"/><path class="ln" d="M1857,743V761"/><path class="ln" d="M1857,798V816"/><path class="ln" d="M1857,853V871"/><path class="ln" d="M1857,908V926"/><path class="ln" d="M1857,963V984"/>
<path class="ln" d="M1974,637V651"/><path class="ln" d="M1974,688V706"/><path class="ln" d="M1974,743V761"/><path class="ln" d="M1974,798V816"/><path class="ln" d="M1974,853V871"/><path class="ln" d="M1974,908V928"/>
</g>

<!-- rework triggers: design review due to site differences -->
<g id="rw-c1"><polygon class="tri" points="208,306 311,306 259,388"/><text x="214" y="332" class="tt">C) 現地状況相</text><text x="214" y="350" class="tt">違による設計</text><text x="214" y="367" class="tt">見直し</text></g>
<g id="rw-c2"><polygon class="tri" points="321,306 424,306 372,388"/><text x="327" y="332" class="tt">C) 現地状況相</text><text x="327" y="350" class="tt">違による設計</text><text x="327" y="367" class="tt">見直し</text></g>
<g id="rw-c3"><polygon class="tri" points="441,306 544,306 492,388"/><text x="447" y="332" class="tt">C) 現地状況相</text><text x="447" y="350" class="tt">違による設計</text><text x="447" y="367" class="tt">見直し</text></g>
<g id="rw-c4"><polygon class="tri" points="568,306 671,306 619,388"/><text x="574" y="332" class="tt">C) 現地状況相</text><text x="574" y="350" class="tt">違による設計</text><text x="574" y="367" class="tt">見直し</text></g>
<g id="rw-c5"><polygon class="tri" points="689,306 792,306 741,388"/><text x="695" y="332" class="tt">C) 現地状況相</text><text x="695" y="350" class="tt">違による設計</text><text x="695" y="367" class="tt">見直し</text></g>
<g id="rw-c6"><polygon class="tri" points="807,306 910,306 858,388"/><text x="813" y="332" class="tt">C) 現地状況相</text><text x="813" y="350" class="tt">違による設計</text><text x="813" y="367" class="tt">見直し</text></g>
<g id="rw-c7"><polygon class="tri" points="1006,306 1108,306 1057,388"/><text x="1012" y="332" class="tt">C) 現地状況相</text><text x="1012" y="350" class="tt">違による設計</text><text x="1012" y="367" class="tt">見直し</text></g>
<g id="rw-c8"><polygon class="tri" points="1187,306 1290,306 1238,388"/><text x="1193" y="332" class="tt">C) 現地状況相</text><text x="1193" y="350" class="tt">違による設計</text><text x="1193" y="367" class="tt">見直し</text></g>
<g id="rw-c9"><polygon class="tri" points="1305,306 1408,306 1357,388"/><text x="1311" y="332" class="tt">C) 現地状況相</text><text x="1311" y="350" class="tt">違による設計</text><text x="1311" y="367" class="tt">見直し</text></g>
<g id="rw-c10"><polygon class="tri" points="1433,306 1537,306 1485,388"/><text x="1439" y="332" class="tt">C) 現地状況相</text><text x="1439" y="350" class="tt">違による設計</text><text x="1439" y="367" class="tt">見直し</text></g>
<g id="rw-c11"><polygon class="tri" points="1553,306 1656,306 1604,388"/><text x="1559" y="332" class="tt">C) 現地状況相</text><text x="1559" y="350" class="tt">違による設計</text><text x="1559" y="367" class="tt">見直し</text></g>
<g id="rw-c12"><polygon class="tri" points="1689,306 1792,306 1740,388"/><text x="1695" y="332" class="tt">C) 現地状況相</text><text x="1695" y="350" class="tt">違による設計</text><text x="1695" y="367" class="tt">見直し</text></g>
<g id="rw-c13"><polygon class="tri" points="1808,306 1910,306 1859,388"/><text x="1814" y="332" class="tt">C) 現地状況相</text><text x="1814" y="350" class="tt">違による設計</text><text x="1814" y="367" class="tt">見直し</text></g>
<g id="rw-c14"><polygon class="tri" points="1920,306 2023,306 1972,388"/><text x="1926" y="332" class="tt">C) 現地状況相</text><text x="1926" y="350" class="tt">違による設計</text><text x="1926" y="367" class="tt">見直し</text></g>
</svg>
